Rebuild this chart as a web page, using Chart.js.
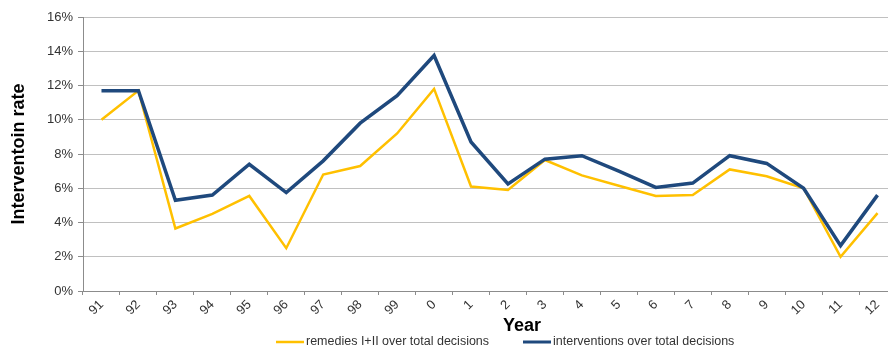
<!DOCTYPE html>
<html>
<head>
<meta charset="utf-8">
<script src="https://cdn.jsdelivr.net/npm/chart.js@4/dist/chart.umd.min.js"></script>
<style>
  html, body { margin: 0; padding: 0; overflow: hidden; background: #fff; }
  canvas { display: block; }
</style>
</head>
<body>
<canvas id="chart" width="900" height="352"></canvas>
<script>
// Years (1991 ... 2012, two-digit style)
const years = ['91', '92', '93', '94', '95', '96', '97', '98', '99', '0', '1', '2',
               '3', '4', '5', '6', '7', '8', '9', '10', '11', '12'];

// Rates in percent
const remediesRate     = [10.0, 11.7, 3.65, 4.5, 5.55, 2.5, 6.8, 7.3, 9.2, 11.8, 6.1, 5.9,
                          7.65, 6.75, 6.15, 5.55, 5.6, 7.1, 6.7, 6.0, 2.0, 4.55];
const interventionRate = [11.7, 11.7, 5.3, 5.6, 7.4, 5.75, 7.6, 9.8, 11.4, 13.75, 8.7, 6.25,
                          7.7, 7.9, 7.0, 6.05, 6.3, 7.9, 7.45, 6.0, 2.65, 5.6];

const seriesNames = ['remedies I+II over total decisions', 'interventions over total decisions'];
const yTickValues = [0, 2, 4, 6, 8, 10, 12, 14, 16];
const yTitle = 'Interventoin rate';
const xTitle = 'Year';

const FONT = '"Liberation Sans", Arial, sans-serif';

// Axis title under the x axis and the series key along the bottom
const bottomTexts = {
  id: 'bottomTexts',
  afterDraw(chart) {
    const ctx = chart.ctx;
    const area = chart.chartArea;
    ctx.save();
    ctx.fillStyle = '#000';
    ctx.font = 'bold 18px ' + FONT;
    ctx.textAlign = 'center';
    ctx.textBaseline = 'middle';
    ctx.fillText(xTitle, area.left + 439, 326);

    const keyY = 342;
    const starts = [276, 523];
    ctx.font = '12.5px ' + FONT;
    ctx.textAlign = 'left';
    chart.data.datasets.forEach((ds, i) => {
      const x = starts[i];
      ctx.strokeStyle = ds.borderColor;
      ctx.lineWidth = ds.keyWidth;
      ctx.beginPath();
      ctx.moveTo(x, keyY);
      ctx.lineTo(x + 28, keyY);
      ctx.stroke();
      ctx.fillStyle = '#333';
      ctx.fillText(ds.label, x + 30, keyY);
    });
    ctx.restore();
  }
};

new Chart(document.getElementById('chart'), {
  type: 'line',
  data: {
    labels: years,
    datasets: [
      {
        label: seriesNames[0],
        data: remediesRate,
        borderColor: '#FFC000',
        borderWidth: 2.5,
        keyWidth: 2.5,
        pointRadius: 0,
        tension: 0,
        order: 1
      },
      {
        label: seriesNames[1],
        data: interventionRate,
        borderColor: '#1F497D',
        borderWidth: 3.5,
        keyWidth: 3,
        pointRadius: 0,
        tension: 0,
        order: 0
      }
    ]
  },
  options: {
    responsive: false,
    animation: false,
    layout: { padding: { top: 17, right: 4, bottom: 0, left: 0 } },
    plugins: {
      legend: { display: false },
      tooltip: { enabled: false }
    },
    scales: {
      x: {
        type: 'category',
        offset: true,
        grid: {
          offset: true,
          drawOnChartArea: false,
          drawTicks: true,
          tickLength: 4,
          color: '#8c8c8c'
        },
        border: { color: '#8c8c8c', width: 1 },
        ticks: {
          minRotation: 45,
          maxRotation: 45,
          autoSkip: false,
          padding: 2,
          color: '#333',
          font: { family: FONT, size: 13 }
        },
        afterFit(scale) { scale.height = 61; }
      },
      y: {
        min: 0,
        max: 16,
        afterBuildTicks(scale) {
          scale.ticks = yTickValues.map(v => ({ value: v }));
        },
        grid: {
          color: '#c0c0c0',
          lineWidth: 1,
          tickLength: 5,
          tickColor: '#8c8c8c'
        },
        border: { color: '#8c8c8c', width: 1 },
        ticks: {
          padding: 5,
          color: '#333',
          font: { family: FONT, size: 13 },
          callback: v => v + '%'
        },
        title: {
          display: true,
          text: yTitle,
          color: '#000',
          font: { family: FONT, size: 18, weight: 'bold' },
          padding: { top: 8, bottom: 0 }
        },
        afterFit(scale) { scale.width = 83; }
      }
    }
  },
  plugins: [bottomTexts]
});
</script>
</body>
</html>
